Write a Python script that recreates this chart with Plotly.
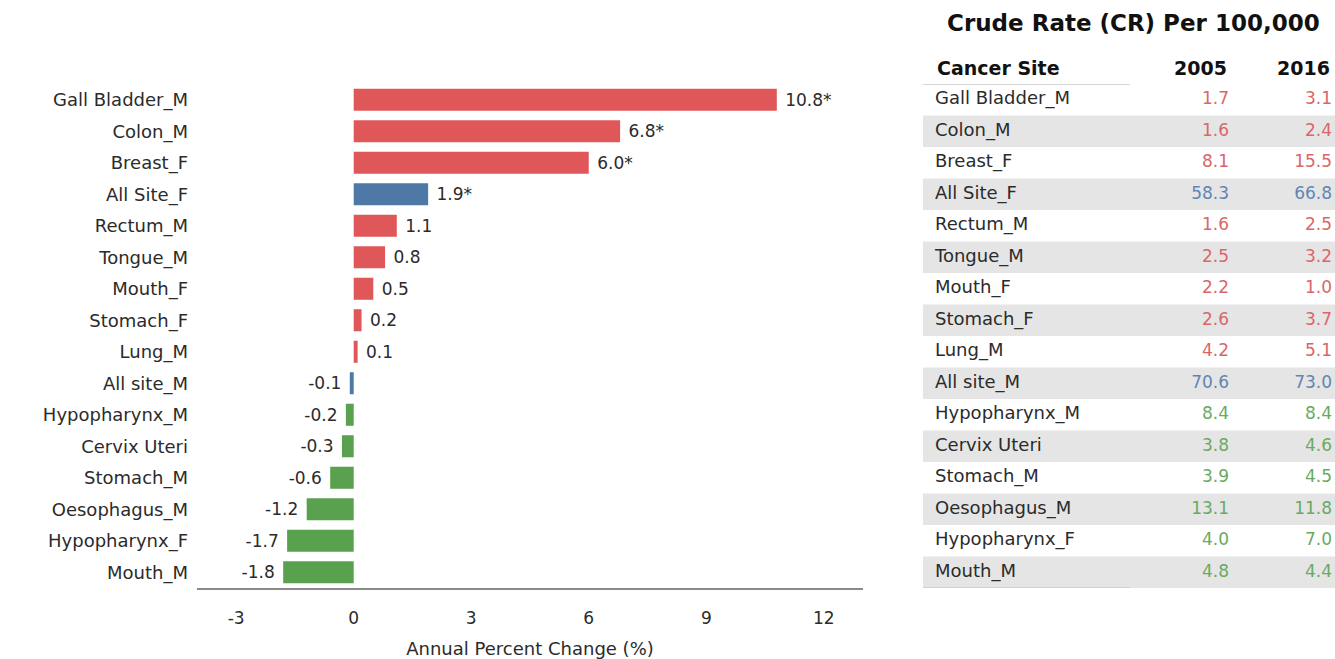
import plotly.graph_objects as go

# Cancer sites, top to bottom
sites = ["Gall Bladder_M", "Colon_M", "Breast_F", "All Site_F", "Rectum_M",
         "Tongue_M", "Mouth_F", "Stomach_F", "Lung_M", "All site_M",
         "Hypopharynx_M", "Cervix Uteri", "Stomach_M", "Oesophagus_M",
         "Hypopharynx_F", "Mouth_M"]
# Annual percent change (%)
apc = [10.8, 6.8, 6.0, 1.9, 1.1, 0.8, 0.5, 0.2, 0.1, -0.1,
       -0.2, -0.3, -0.6, -1.2, -1.7, -1.8]
# Statistically significant trends (marked with *)
significant = [True, True, True, True, False, False, False, False, False, False,
               False, False, False, False, False, False]
# Crude rate per 100,000
cr_2005 = [1.7, 1.6, 8.1, 58.3, 1.6, 2.5, 2.2, 2.6, 4.2, 70.6,
           8.4, 3.8, 3.9, 13.1, 4.0, 4.8]
cr_2016 = [3.1, 2.4, 15.5, 66.8, 2.5, 3.2, 1.0, 3.7, 5.1, 73.0,
           8.4, 4.6, 4.5, 11.8, 7.0, 4.4]
x_ticks = [-3, 0, 3, 6, 9, 12]

FONT = "'DejaVu Sans', Verdana, sans-serif"
RED, BLUE, GREEN = "#e05759", "#4e79a7", "#59a14f"
RED_T, BLUE_T, GREEN_T = "#d9676a", "#5f86b3", "#6aaa5f"


def group_colors(name, v, red, blue, green):
    if name.lower().startswith("all site"):
        return blue
    return red if v > 0 else green


bar_colors = [group_colors(s, v, RED, BLUE, GREEN) for s, v in zip(sites, apc)]
txt_colors = [group_colors(s, v, RED_T, BLUE_T, GREEN_T) for s, v in zip(sites, apc)]


def label(v, sig):
    s = f"{v:.1f}" + ("*" if sig else "")
    return (" " + s) if v >= 0 else (s + " ")


fig = go.Figure()

fig.add_trace(go.Bar(
    x=apc, y=sites, orientation="h",
    marker=dict(color=bar_colors, line=dict(width=0)),
    width=0.7,
    text=[label(v, s) for v, s in zip(apc, significant)],
    textposition="outside", cliponaxis=False,
    textfont=dict(family=FONT, size=17, color="#2b2b2b"),
    hoverinfo="x+y", showlegend=False,
))

# Table columns drawn on a second x axis sharing the category axis
fig.add_trace(go.Scatter(
    x=[935] * len(sites), y=sites, mode="text", text=sites,
    textposition="middle right",
    textfont=dict(family=FONT, size=18, color="#2b2b2b"),
    xaxis="x2", yaxis="y", showlegend=False, hoverinfo="skip",
))
fig.add_trace(go.Scatter(
    x=[1229] * len(sites), y=sites, mode="text",
    text=[f"{v:.1f}" for v in cr_2005], textposition="middle left",
    textfont=dict(family=FONT, size=17, color=txt_colors),
    xaxis="x2", yaxis="y", showlegend=False, hoverinfo="skip",
))
fig.add_trace(go.Scatter(
    x=[1332] * len(sites), y=sites, mode="text",
    text=[f"{v:.1f}" for v in cr_2016], textposition="middle left",
    textfont=dict(family=FONT, size=17, color=txt_colors),
    xaxis="x2", yaxis="y", showlegend=False, hoverinfo="skip",
))

shapes = []
# Alternating row bands
for i in range(1, len(sites), 2):
    shapes.append(dict(type="rect", xref="x2", yref="y", x0=923, x1=1335,
                       y0=i - 0.5, y1=i + 0.5, fillcolor="#e5e5e5",
                       line=dict(width=0), layer="below"))
# Header and bottom rules
for yv in (-0.5, len(sites) - 0.5):
    shapes.append(dict(type="line", xref="x2", yref="y", x0=923, x1=1130,
                       y0=yv, y1=yv, line=dict(color="#c8c8c8", width=1.5)))

annotations = [
    dict(text="<b>Crude Rate (CR) Per 100,000</b>", xref="paper", yref="paper",
         x=1133 / 1335, y=1 - 23 / 659, xanchor="center", yanchor="middle",
         showarrow=False, font=dict(family=FONT, size=23, color="#111111")),
    dict(text="<b>Cancer Site</b>", xref="x2", yref="paper", x=935,
         y=1 - 68 / 659, xanchor="left", yanchor="middle", showarrow=False,
         font=dict(family=FONT, size=19, color="#111111")),
    dict(text="<b>2005</b>", xref="x2", yref="paper", x=1229,
         y=1 - 68 / 659, xanchor="right", yanchor="middle", showarrow=False,
         font=dict(family=FONT, size=19, color="#111111")),
    dict(text="<b>2016</b>", xref="x2", yref="paper", x=1332,
         y=1 - 68 / 659, xanchor="right", yanchor="middle", showarrow=False,
         font=dict(family=FONT, size=19, color="#111111")),
]

fig.update_layout(
    width=1335, height=659,
    margin=dict(l=0, r=0, t=0, b=0),
    paper_bgcolor="white", plot_bgcolor="white",
    font=dict(family=FONT, color="#2b2b2b"),
    xaxis=dict(
        domain=[197 / 1335, 863 / 1335], range=[-4, 13], autorange=False,
        tickvals=x_ticks, ticktext=[str(t) for t in x_ticks],
        showgrid=False, zeroline=False,
        showline=True, linecolor="#8a8a8a", linewidth=1.5,
        ticks="", ticklabelstandoff=14,
        tickfont=dict(family=FONT, size=17, color="#2b2b2b"),
        title=dict(text="Annual Percent Change (%)", standoff=16,
                   font=dict(family=FONT, size=18, color="#2b2b2b")),
        anchor="y",
    ),
    xaxis2=dict(
        domain=[923 / 1335, 1.0], range=[923, 1335], autorange=False,
        visible=False, anchor="y", fixedrange=True,
    ),
    yaxis=dict(
        domain=[1 - 588 / 659, 1 - 84 / 659],
        categoryorder="array", categoryarray=sites,
        autorange=False, range=[len(sites) - 0.5, -0.5],
        showgrid=False, zeroline=False, showline=False, ticks="",
        ticklabelstandoff=8,
        tickfont=dict(family=FONT, size=18, color="#2b2b2b"),
    ),
    shapes=shapes,
    annotations=annotations,
)

fig.write_html("out.html")
